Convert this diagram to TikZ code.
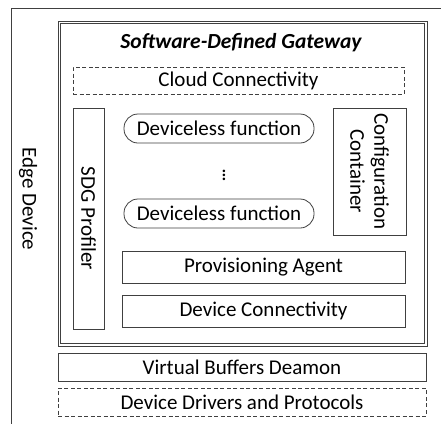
\documentclass[tikz,border=0pt]{standalone}
\usepackage{fontspec}
\setmainfont{Carlito}
\begin{document}
\begin{tikzpicture}[x=1pt,y=-1pt,
  line/.style={draw=black!75,line width=0.8pt},
  box/.style={line,rectangle,inner sep=0pt,font=\fontsize{21}{25}\selectfont},
  dbox/.style={box,dash pattern=on 4pt off 2.5pt},
  lbl/.style={inner sep=0pt,font=\fontsize{21}{25}\selectfont}]
\useasboundingbox (0,0) rectangle (441,424);
\fill[white] (0,0) rectangle (441,424);
% edge device frame (clipped)
\coordinate (edgeTR) at (441,8.5);
\coordinate (edgeTL) at (11.5,8.5);
\coordinate (edgeBL) at (11.5,424);
\draw[line] (edgeTR) -- (edgeTL) -- (edgeBL);
\node[lbl,rotate=-90] (edge) at (28,199) {Edge Device};
% SDG double frame
\node[box,line width=1pt,minimum width=369pt,minimum height=325pt] (sdgout) at (242.5,183.5) {};
\node[box,minimum width=364pt,minimum height=320pt] (sdgin) at (242.5,183.5) {};
\node[inner sep=0pt,font=\fontsize{21.5}{25}\selectfont\bfseries\itshape] (title) at (241,43) {Software-Defined Gateway};
\node[dbox,minimum width=331pt,minimum height=27pt] (cloud) at (238.5,80.5) {Cloud Connectivity};
\node[box,minimum width=31pt,minimum height=221pt] (prof) at (88.5,218.5) {};
\node[lbl,rotate=-90] at (prof.center) {SDG Profiler};
\node[box,minimum width=73pt,minimum height=127pt] (conf) at (369.5,171.5) {};
\node[lbl,rotate=-90,align=center,font=\fontsize{21}{24}\selectfont] at (conf.center) {Configuration\\Container};
\node[box,rounded corners=14pt,minimum width=190pt,minimum height=29pt] (df1) at (219,128.5) {Deviceless function};
\node[lbl] (dots) at (224,172) {$\vdots$};
\node[box,rounded corners=14pt,minimum width=190pt,minimum height=29pt] (df2) at (219,213.5) {Deviceless function};
\node[box,minimum width=283pt,minimum height=32pt] (prov) at (263.5,267) {Provisioning Agent};
\node[box,minimum width=283pt,minimum height=32pt] (devc) at (263.5,311) {Device Connectivity};
\node[box,minimum width=368pt,minimum height=28pt] (vbd) at (242,367) {Virtual Buffers Deamon};
\node[dbox,minimum width=368pt,minimum height=28pt] (ddp) at (242,402) {Device Drivers and Protocols};
\end{tikzpicture}
\end{document}
